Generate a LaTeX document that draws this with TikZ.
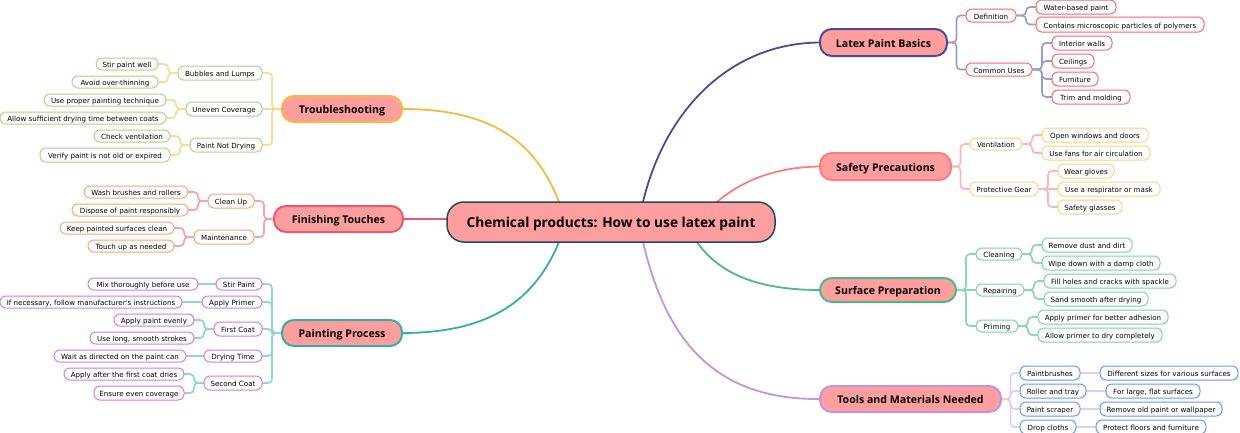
\documentclass[tikz,border=0pt]{standalone}
\usepackage{fontspec}
\setmainfont{Open Sans}
\newfontfamily\leaffont{DejaVu Sans}
\usetikzlibrary{calc}
\pgfdeclarelayer{bg}
\pgfsetlayers{bg,main}
\definecolor{mainfill}{HTML}{FF9E9E}
\definecolor{cA}{HTML}{4A4A9A}\definecolor{pA}{HTML}{9C9CCE}\definecolor{sA}{HTML}{FF6464}
\definecolor{cB}{HTML}{FF7C7C}\definecolor{pB}{HTML}{FFB4B4}\definecolor{sB}{HTML}{FFD27A}
\definecolor{cC}{HTML}{4CB987}\definecolor{pC}{HTML}{8CD6B0}\definecolor{sC}{HTML}{78D49A}
\definecolor{cD}{HTML}{C094E0}\definecolor{pD}{HTML}{E2CCF4}\definecolor{sD}{HTML}{6496FF}
\definecolor{cE}{HTML}{F5B942}\definecolor{pE}{HTML}{F9DC9C}\definecolor{sE}{HTML}{AAD484}
\definecolor{cF}{HTML}{E85A6E}\definecolor{pF}{HTML}{F3A2B2}\definecolor{sF}{HTML}{FFA070}
\definecolor{cG}{HTML}{35ADA8}\definecolor{pG}{HTML}{8ED6D2}\definecolor{sG}{HTML}{CC78FF}
\definecolor{cZ}{HTML}{2A4560}
\tikzset{
  base/.style={draw,rectangle,outer sep=0pt,inner sep=0pt,align=center,text=black},
  root/.style={base,fill=mainfill,line width=1.5pt,draw=cZ,rounded corners=17pt,font=\fontsize{13.7}{15}\bfseries,text height=13.5pt,text depth=2.5pt},
  topic/.style={base,fill=mainfill,line width=2pt,rounded corners=11.9pt,font=\fontsize{10.6}{12}\bfseries,text height=11.5pt,text depth=2pt},
  leaf/.style={base,fill=white,line width=1pt,rounded corners=5.9pt,font=\fontsize{7.1}{9}\leaffont,text height=8.9pt,text depth=1.5pt},
  trunk/.style={line width=1.8pt,line cap=round},
  twig/.style={line width=1.7pt,rounded corners=4pt}
}
\newcommand\nd[7]{\node[#6,minimum width={(#4-#2)*1pt},minimum height={(#5-#3)*1pt}] (#1) at ({(#2+#4)/2},{(#3+#5)/2}) {#7};}
\newcommand\lkR[3]{\draw[twig,#1] (#2.east) -- ($(#2.east)!.5!(#3.west |- #2.east)$) |- (#3.west);}
\newcommand\lkL[3]{\draw[twig,#1] (#2.west) -- ($(#2.west)!.5!(#3.east |- #2.west)$) |- (#3.east);}
\newcommand\lkS[3]{\draw[twig,#1] (#2) -- (#3);}
\begin{document}
\begin{tikzpicture}[x=1pt,y=-1pt]
\useasboundingbox (0,0) rectangle (1240,432);
\nd{c}{447}{202}{775}{242}{root}{Chemical products: How to use latex paint}
% right branches
\nd{A}{820}{29}{947}{56}{topic,draw=cA}{Latex Paint Basics}
\nd{Aa}{966}{9}{1016}{22}{leaf,draw=sA}{Definition}
\nd{Aa1}{1036}{0}{1116}{14}{leaf,draw=sA}{Water-based paint}
\nd{Aa2}{1036}{17}{1204}{32}{leaf,draw=sA}{Contains microscopic particles of polymers}
\nd{Ab}{966}{63}{1032}{76}{leaf,draw=sA}{Common Uses}
\nd{Ab1}{1052}{36}{1112}{50}{leaf,draw=sA}{Interior walls}
\nd{Ab2}{1052}{54}{1094}{68}{leaf,draw=sA}{Ceilings}
\nd{Ab3}{1052}{72}{1098}{86}{leaf,draw=sA}{Furniture}
\nd{Ab4}{1052}{90}{1130}{104}{leaf,draw=sA}{Trim and molding}
\nd{B}{820}{153}{951}{180}{topic,draw=cB}{Safety Precautions}
\nd{Ba}{970}{138}{1022}{150}{leaf,draw=sB}{Ventilation}
\nd{Ba1}{1042}{128}{1148}{142}{leaf,draw=sB}{Open windows and doors}
\nd{Ba2}{1042}{146}{1150}{160}{leaf,draw=sB}{Use fans for air circulation}
\nd{Bb}{970}{182}{1038}{196}{leaf,draw=sB}{Protective Gear}
\nd{Bb1}{1058}{164}{1114}{178}{leaf,draw=sB}{Wear gloves}
\nd{Bb2}{1058}{182}{1160}{196}{leaf,draw=sB}{Use a respirator or mask}
\nd{Bb3}{1058}{200}{1122}{214}{leaf,draw=sB}{Safety glasses}
\nd{C}{820}{278}{956}{302}{topic,draw=cC}{Surface Preparation}
\nd{Ca}{976}{248}{1022}{260}{leaf,draw=sC}{Cleaning}
\nd{Ca1}{1042}{238}{1132}{252}{leaf,draw=sC}{Remove dust and dirt}
\nd{Ca2}{1042}{256}{1160}{270}{leaf,draw=sC}{Wipe down with a damp cloth}
\nd{Cb}{976}{284}{1024}{296}{leaf,draw=sC}{Repairing}
\nd{Cb1}{1044}{274}{1176}{288}{leaf,draw=sC}{Fill holes and cracks with spackle}
\nd{Cb2}{1044}{292}{1148}{306}{leaf,draw=sC}{Sand smooth after drying}
\nd{Cc}{976}{320}{1018}{332}{leaf,draw=sC}{Priming}
\nd{Cc1}{1038}{310}{1168}{324}{leaf,draw=sC}{Apply primer for better adhesion}
\nd{Cc2}{1038}{328}{1162}{342}{leaf,draw=sC}{Allow primer to dry completely}
\nd{D}{820}{386}{1001}{412}{topic,draw=cD}{Tools and Materials Needed}
\nd{Da}{1020}{366}{1080}{380}{leaf,draw=sD}{Paintbrushes}
\nd{Da1}{1100}{366}{1238}{380}{leaf,draw=sD}{Different sizes for various surfaces}
\nd{Db}{1020}{384}{1086}{398}{leaf,draw=sD}{Roller and tray}
\nd{Db1}{1106}{384}{1200}{398}{leaf,draw=sD}{For large, flat surfaces}
\nd{Dc}{1020}{402}{1080}{416}{leaf,draw=sD}{Paint scraper}
\nd{Dc1}{1100}{402}{1222}{416}{leaf,draw=sD}{Remove old paint or wallpaper}
\nd{Dd}{1020}{420}{1076}{434}{leaf,draw=sD}{Drop cloths}
\nd{Dd1}{1096}{420}{1206}{434}{leaf,draw=sD}{Protect floors and furniture}
% left branches
\nd{E}{282}{96}{402}{122}{topic,draw=cE}{Troubleshooting}
\nd{Ea}{178}{66}{262}{80}{leaf,draw=sE}{Bubbles and Lumps}
\nd{Ea1}{96}{58}{158}{70}{leaf,draw=sE}{Stir paint well}
\nd{Ea2}{72}{76}{158}{88}{leaf,draw=sE}{Avoid over-thinning}
\nd{Eb}{186}{102}{262}{116}{leaf,draw=sE}{Uneven Coverage}
\nd{Eb1}{44}{94}{166}{106}{leaf,draw=sE}{Use proper painting technique}
\nd{Eb2}{0}{112}{166}{124}{leaf,draw=sE}{Allow sufficient drying time between coats}
\nd{Ec}{190}{138}{262}{152}{leaf,draw=sE}{Paint Not Drying}
\nd{Ec1}{94}{130}{170}{142}{leaf,draw=sE}{Check ventilation}
\nd{Ec2}{40}{148}{170}{162}{leaf,draw=sE}{Verify paint is not old or expired}
\nd{F}{274}{206}{403}{232}{topic,draw=cF}{Finishing Touches}
\nd{Fa}{208}{194}{254}{208}{leaf,draw=sF}{Clean Up}
\nd{Fa1}{84}{186}{188}{198}{leaf,draw=sF}{Wash brushes and rollers}
\nd{Fa2}{72}{204}{188}{216}{leaf,draw=sF}{Dispose of paint responsibly}
\nd{Fb}{194}{230}{254}{244}{leaf,draw=sF}{Maintenance}
\nd{Fb1}{60}{222}{174}{234}{leaf,draw=sF}{Keep painted surfaces clean}
\nd{Fb2}{88}{240}{174}{252}{leaf,draw=sF}{Touch up as needed}
\nd{G}{282}{320}{402}{346}{topic,draw=cG}{Painting Process}
\nd{Ga}{216}{278}{262}{290}{leaf,draw=sG}{Stir Paint}
\nd{Ga1}{88}{278}{198}{290}{leaf,draw=sG}{Mix thoroughly before use}
\nd{Gb}{202}{296}{262}{308}{leaf,draw=sG}{Apply Primer}
\nd{Gb1}{0}{296}{182}{308}{leaf,draw=sG}{If necessary, follow manufacturer's instructions}
\nd{Gc}{214}{322}{262}{336}{leaf,draw=sG}{First Coat}
\nd{Gc1}{114}{314}{194}{326}{leaf,draw=sG}{Apply paint evenly}
\nd{Gc2}{90}{332}{194}{344}{leaf,draw=sG}{Use long, smooth strokes}
\nd{Gd}{204}{350}{262}{362}{leaf,draw=sG}{Drying Time}
\nd{Gd1}{54}{350}{186}{362}{leaf,draw=sG}{Wait as directed on the paint can}
\nd{Ge}{204}{376}{262}{390}{leaf,draw=sG}{Second Coat}
\nd{Ge1}{64}{368}{184}{380}{leaf,draw=sG}{Apply after the first coat dries}
\nd{Ge2}{94}{386}{184}{400}{leaf,draw=sG}{Ensure even coverage}
\begin{pgfonlayer}{bg}
\coordinate (cA) at (643,202);
\coordinate (cB) at (717,202);
\coordinate (cC) at (697,242);
\coordinate (cD) at (643,242);
\coordinate (cE) at (559,202);
\coordinate (cG) at (559,242);
\draw[trunk,cA] (cA) .. controls (665,110) and (730,43) .. (A.west);
\draw[trunk,cB] (cB) .. controls (745,178) and (780,167) .. (B.west);
\draw[trunk,cC] (cC) .. controls (720,275) and (760,290) .. (C.west);
\draw[trunk,cD] (cD) .. controls (665,335) and (710,400) .. (D.west);
\draw[trunk,cE] (cE) .. controls (535,140) and (490,109) .. (E.east);
\draw[trunk,cF] (F.east) -- (F.east -| c.west);
\draw[trunk,cG] (cG) .. controls (535,300) and (490,333) .. (G.east);
\lkR{pA}{A}{Aa}\lkR{pA}{A}{Ab}\lkR{pA}{Aa}{Aa1}\lkR{pA}{Aa}{Aa2}
\lkR{pA}{Ab}{Ab1}\lkR{pA}{Ab}{Ab2}\lkR{pA}{Ab}{Ab3}\lkR{pA}{Ab}{Ab4}
\lkR{pB}{B}{Ba}\lkR{pB}{B}{Bb}\lkR{pB}{Ba}{Ba1}\lkR{pB}{Ba}{Ba2}
\lkR{pB}{Bb}{Bb1}\lkS{pB}{Bb.east}{Bb2.west}\lkR{pB}{Bb}{Bb3}
\lkR{pC}{C}{Ca}\lkS{pC}{C.east}{Cb.west}\lkR{pC}{C}{Cc}
\lkR{pC}{Ca}{Ca1}\lkR{pC}{Ca}{Ca2}\lkR{pC}{Cb}{Cb1}\lkR{pC}{Cb}{Cb2}\lkR{pC}{Cc}{Cc1}\lkR{pC}{Cc}{Cc2}
\lkR{pD}{D}{Da}\lkR{pD}{D}{Db}\lkR{pD}{D}{Dc}\lkR{pD}{D}{Dd}
\lkS{pD}{Da.east}{Da1.west}\lkS{pD}{Db.east}{Db1.west}\lkS{pD}{Dc.east}{Dc1.west}\lkS{pD}{Dd.east}{Dd1.west}
\lkL{pE}{E}{Ea}\lkS{pE}{E.west}{Eb.east}\lkL{pE}{E}{Ec}
\lkL{pE}{Ea}{Ea1}\lkL{pE}{Ea}{Ea2}\lkL{pE}{Eb}{Eb1}\lkL{pE}{Eb}{Eb2}\lkL{pE}{Ec}{Ec1}\lkL{pE}{Ec}{Ec2}
\lkL{pF}{F}{Fa}\lkL{pF}{F}{Fb}\lkL{pF}{Fa}{Fa1}\lkL{pF}{Fa}{Fa2}\lkL{pF}{Fb}{Fb1}\lkL{pF}{Fb}{Fb2}
\lkL{pG}{G}{Ga}\lkL{pG}{G}{Gb}\lkL{pG}{G}{Gc}\lkL{pG}{G}{Gd}\lkL{pG}{G}{Ge}
\lkS{pG}{Ga.west}{Ga1.east}\lkS{pG}{Gb.west}{Gb1.east}\lkL{pG}{Gc}{Gc1}\lkL{pG}{Gc}{Gc2}\lkS{pG}{Gd.west}{Gd1.east}\lkL{pG}{Ge}{Ge1}\lkL{pG}{Ge}{Ge2}
\end{pgfonlayer}
\end{tikzpicture}
\end{document}
